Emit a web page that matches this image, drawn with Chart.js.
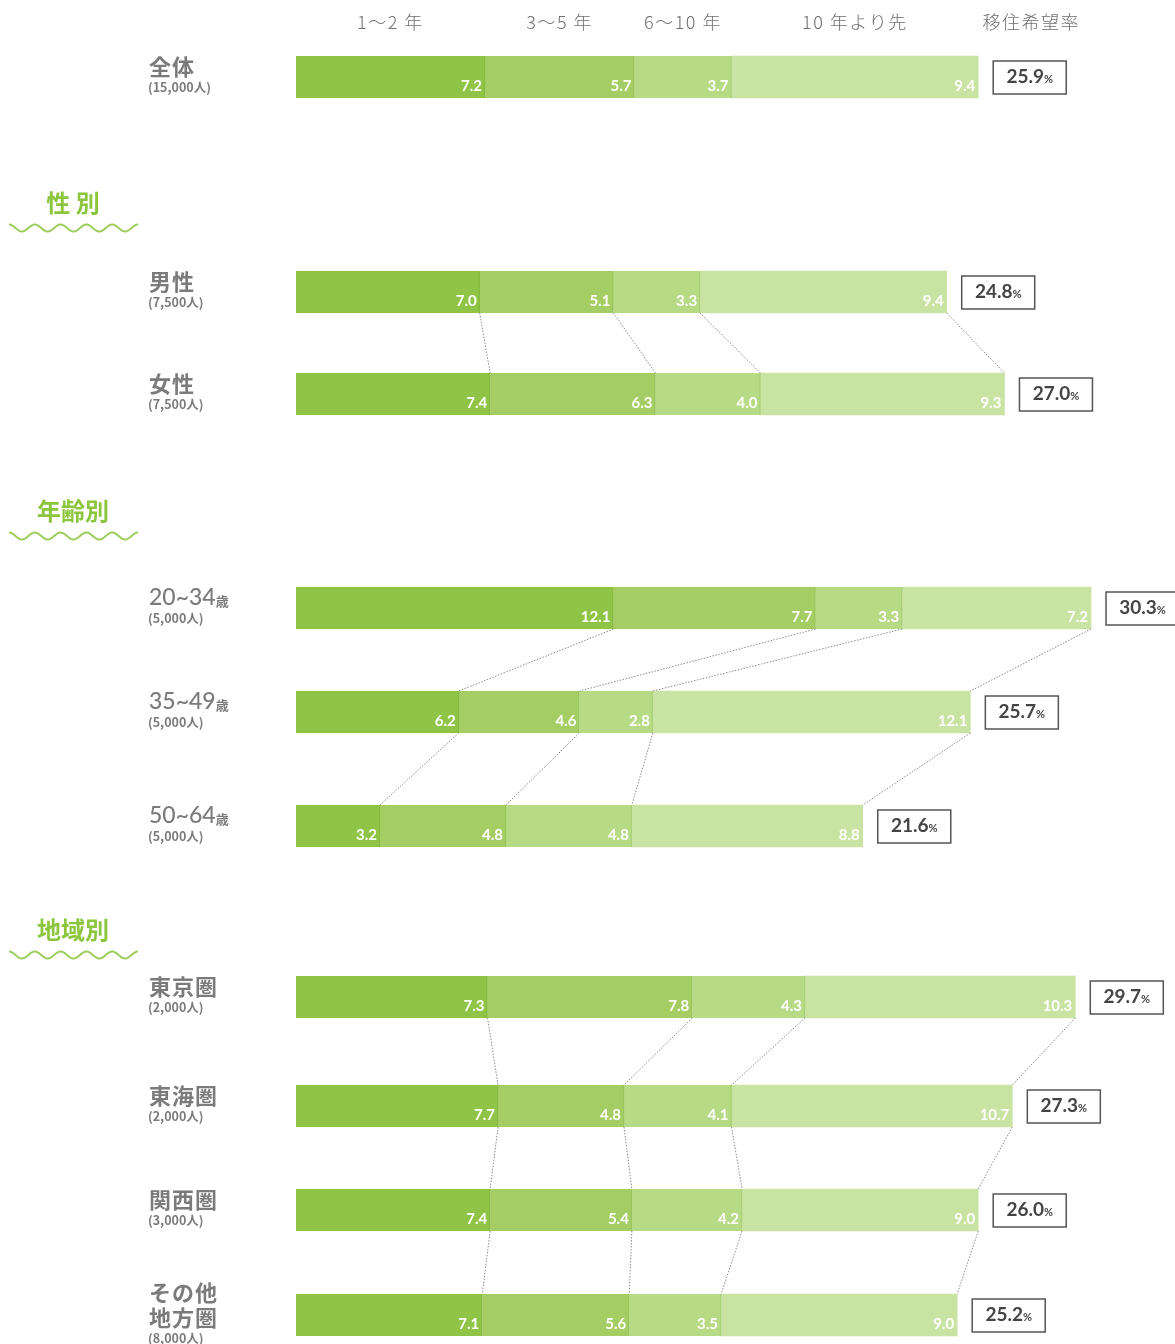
<!DOCTYPE html>
<html>
<head>
<meta charset="utf-8">
<script src="https://cdn.jsdelivr.net/npm/chart.js@4"></script>
<style>
  body { margin: 0; background: #fff; }
  #wrap { position: relative; width: 1175px; height: 1344px; }
</style>
</head>
<body>
<div id="wrap"><canvas id="myChart"></canvas></div>
<script>
// rows
const rowNames = ['全体', '男性', '女性', '20~34歳', '35~49歳', '50~64歳', '東京圏', '東海圏', '関西圏', 'その他\n地方圏'];
const rowCounts = ['(15,000人)', '(7,500人)', '(7,500人)', '(5,000人)', '(5,000人)', '(5,000人)', '(2,000人)', '(2,000人)', '(3,000人)', '(8,000人)'];
const seriesNames = ['1～2 年', '3～5 年', '6～10 年', '10 年より先'];
const rateTitle = '移住希望率';

// values (%)
const yr1to2 = [7.2, 7.0, 7.4, 12.1, 6.2, 3.2, 7.3, 7.7, 7.4, 7.1];
const yr3to5 = [5.7, 5.1, 6.3, 7.7, 4.6, 4.8, 7.8, 4.8, 5.4, 5.6];
const yr6to10 = [3.7, 3.3, 4.0, 3.3, 2.8, 4.8, 4.3, 4.1, 4.2, 3.5];
const yr10plus = [9.4, 9.4, 9.3, 7.2, 12.1, 8.8, 10.3, 10.7, 9.0, 9.0];
const rates = [25.9, 24.8, 27.0, 30.3, 25.7, 21.6, 29.7, 27.3, 26.0, 25.2];

// sections (rows joined by dotted lines)
const sectionNames = ['性 別', '年齢別', '地域別'];
const sectionRows = [[1, 2], [3, 4, 5], [6, 7, 8, 9]];

// layout only
const rowY = [77, 292, 394, 608, 712, 826, 997, 1106, 1210, 1315];
const sectionY = [203, 511, 930];
const colors = ['#8fc446', '#a4ce64', '#b7da84', '#c9e3a3'];
const edges = ['#86bb3e', '#98c658', '#a9d177', '#c9e3a3'];

const GRAY = '#7b7b7b';
const JP = '"Noto Sans CJK JP", "Noto Sans", sans-serif';
const NUM = 'Lato, "Noto Sans", sans-serif';

function toPoints(arr) {
    return arr.map((v, i) => ({x: v, y: rowY[i]}));
}

const overlay = {
    id: 'overlay',
    afterDatasetsDraw(chart) {
        const ctx = chart.ctx;
        const yScale = chart.scales.y;
        const metas = [0, 1, 2, 3].map(d => chart.getDatasetMeta(d).data);
        ctx.save();

        // column headers, centred on the first row's segments
        ctx.fillStyle = '#6f6f6f';
        ctx.font = '300 18px ' + JP;
        ctx.letterSpacing = '1.5px';
        ctx.textAlign = 'center';
        ctx.textBaseline = 'middle';
        for (let d = 0; d < 4; d++) {
            const bar = metas[d][0];
            ctx.fillText(seriesNames[d], (bar.base + bar.x) / 2, 22);
        }
        ctx.fillText(rateTitle, metas[3][0].x + 15 + 38, 22);
        ctx.letterSpacing = '0px';

        // values inside the bars
        ctx.fillStyle = '#fff';
        ctx.font = 'bold 15px ' + NUM;
        ctx.textAlign = 'right';
        for (let d = 0; d < 4; d++) {
            metas[d].forEach((bar, i) => {
                const val = series[d][i];
                ctx.fillText(val.toFixed(1), bar.x - 3, bar.y + 9);
            });
        }

        // rate boxes
        metas[3].forEach((bar, i) => {
            const bx = bar.x + 15, by = bar.y - 16, bw = 73, bh = 33;
            ctx.strokeStyle = '#555';
            ctx.lineWidth = 1.5;
            ctx.strokeRect(bx, by, bw, bh);
            const txt = rates[i].toFixed(1);
            ctx.font = 'bold 19px ' + NUM;
            const w1 = ctx.measureText(txt).width;
            ctx.font = 'bold 11px ' + NUM;
            const w2 = ctx.measureText('%').width;
            const sx = bx + (bw - w1 - w2) / 2;
            ctx.fillStyle = '#444';
            ctx.textAlign = 'left';
            ctx.font = 'bold 19px ' + NUM;
            ctx.fillText(txt, sx, bar.y);
            ctx.font = 'bold 11px ' + NUM;
            ctx.fillText('%', sx + w1, bar.y + 2);
        });

        // dotted connectors between rows of a section
        ctx.strokeStyle = '#8a8a8a';
        ctx.lineWidth = 1;
        ctx.setLineDash([1.5, 1.5]);
        sectionRows.forEach(rows => {
            for (let k = 0; k < rows.length - 1; k++) {
                const a = rows[k], b = rows[k + 1];
                for (let d = 0; d < 4; d++) {
                    const top = metas[d][a], bot = metas[d][b];
                    ctx.beginPath();
                    ctx.moveTo(top.x, top.y + top.height / 2);
                    ctx.lineTo(bot.x, bot.y - bot.height / 2);
                    ctx.stroke();
                }
            }
        });
        ctx.setLineDash([]);

        // row labels
        rowNames.forEach((name, i) => {
            const cy = yScale.getPixelForValue(rowY[i]);
            const lines = name.split('\n');
            const n = lines.length;
            const top = cy - 10 - (n - 1) * 12;
            ctx.fillStyle = GRAY;
            ctx.textAlign = 'left';
            lines.forEach((ln, j) => {
                const ly = top + j * 25;
                if (ln.endsWith('歳')) {
                    const head = ln.slice(0, -1);
                    ctx.font = '500 23px ' + NUM;
                    ctx.fillText(head, 149, ly);
                    const w = ctx.measureText(head).width;
                    ctx.font = 'bold 13px ' + JP;
                    ctx.fillText('歳', 149 + w, ly + 3);
                } else {
                    ctx.font = 'bold 22px ' + JP;
                    ctx.letterSpacing = '1px';
                    ctx.fillText(ln, 149, ly);
                    ctx.letterSpacing = '0px';
                }
            });
            ctx.font = 'bold 12.5px ' + JP;
            ctx.fillText(rowCounts[i], 148, top + (n - 1) * 25 + 20);
        });

        // section headers with wavy underline
        sectionNames.forEach((name, s) => {
            const hy = yScale.getPixelForValue(sectionY[s]);
            ctx.fillStyle = '#8cc63f';
            ctx.font = 'bold 24px ' + JP;
            ctx.textAlign = 'center';
            ctx.fillText(name, 73, hy);
            ctx.strokeStyle = '#9dcd5c';
            ctx.lineWidth = 2;
            ctx.beginPath();
            const wy = hy + 25;
            for (let x = 9; x <= 138; x++) {
                const yy = wy - 3.5 * Math.cos((x - 9) / 25.8 * Math.PI * 2);
                if (x === 9) ctx.moveTo(x, yy); else ctx.lineTo(x, yy);
            }
            ctx.stroke();
        });

        ctx.restore();
    }
};

const series = [yr1to2, yr3to5, yr6to10, yr10plus];

new Chart(document.getElementById('myChart').getContext('2d'), {
    type: 'bar',
    data: {
        datasets: series.map((arr, d) => ({
            label: seriesNames[d],
            data: toPoints(arr),
            backgroundColor: colors[d],
            borderColor: edges[d],
            borderWidth: {left: 0, top: 0, bottom: 0, right: d < 3 ? 1.5 : 0},
            borderSkipped: false,
            barThickness: 42
        }))
    },
    options: {
        indexAxis: 'y',
        responsive: true,
        maintainAspectRatio: false,
        animation: false,
        devicePixelRatio: 1,
        layout: {padding: {left: 296, right: 0, top: 0, bottom: 0}},
        scales: {
            x: {type: 'linear', stacked: true, min: 0, max: 33.5, display: false},
            y: {type: 'linear', stacked: true, min: 0, max: 1344, reverse: true, offset: false, display: false}
        },
        plugins: {
            legend: {display: false},
            tooltip: {enabled: false}
        }
    },
    plugins: [overlay]
});
</script>
</body>
</html>
